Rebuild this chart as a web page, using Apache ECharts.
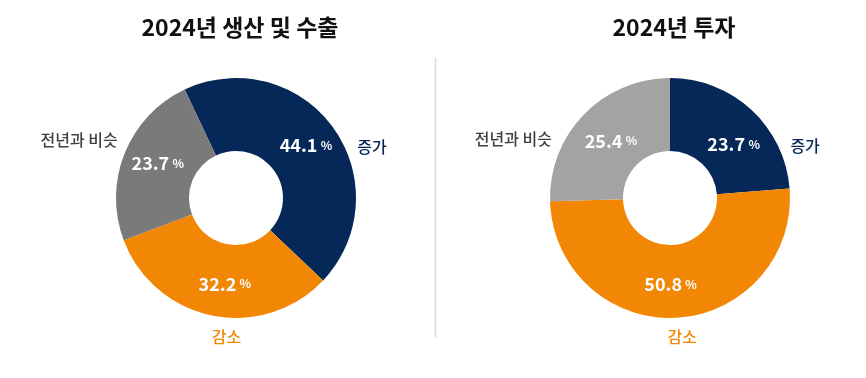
<!DOCTYPE html>
<html><head><meta charset="utf-8">
<script src="https://cdn.jsdelivr.net/npm/echarts@6/dist/echarts.min.js"></script>
<style>html,body{margin:0;padding:0;background:#fff}#c{width:866px;height:378px}</style>
</head><body><div id="c"></div>
<script>
const titles = ['2024년 생산 및 수출', '2024년 투자'];
const categories = ['증가', '감소', '전년과 비슷'];
const leftValues = [44.1, 32.2, 23.7];
const rightValues = [23.7, 50.8, 25.4];

const FONT = '"Noto Sans CJK KR", "Noto Sans", sans-serif';
const NAVY = '#062858', ORANGE = '#f28705';
const leftColors = [NAVY, ORANGE, '#7a7a7a'];
const rightColors = [NAVY, ORANGE, '#a3a3a3'];
const outerTextColors = [NAVY, ORANGE, '#404040'];

// label fine-tune offsets (style only)
const leftInnerOff = [[0, -2], [6, 1], [2, -2]];
const rightInnerOff = [[5, 10], [-4, 0], [3, 3]];
const leftOuterOff = [[19, 19], [34, 21], [-2, -13]];
const rightOuterOff = [[34, 36], [-14, 19], [-27, 25]];

function mk(values, colors) {
  return categories.map((c, i) => ({ name: c, value: values[i], itemStyle: { color: colors[i] } }));
}
function innerSeries(values, colors, center, startAngle, off) {
  return {
    type: 'pie', center, radius: [47, 120], startAngle, clockwise: true,
    avoidLabelOverlap: false, silent: true,
    data: mk(values, colors),
    itemStyle: { borderWidth: 0 },
    label: {
      show: true, position: 'inside',
      formatter: p => '{v|' + p.value.toFixed(1) + '} {p|%}',
      rich: {
        v: { color: '#fff', fontSize: 18, fontWeight: 'bold', fontFamily: FONT },
        p: { color: '#fff', fontSize: 12, fontWeight: 'bold', fontFamily: FONT }
      }
    },
    labelLine: { show: false },
    labelLayout: p => ({ dx: off[p.dataIndex][0], dy: off[p.dataIndex][1] }),
    emphasis: { disabled: true }
  };
}
function outerSeries(values, center, startAngle, off) {
  return {
    type: 'pie', center, radius: [47, 120], startAngle, clockwise: true,
    avoidLabelOverlap: false, silent: true, z: 3,
    data: categories.map((c, i) => ({
      name: c, value: values[i],
      itemStyle: { color: 'rgba(0,0,0,0)' },
      label: { color: outerTextColors[i] }
    })),
    label: {
      show: true, position: 'outside', formatter: '{b}',
      fontSize: 16, fontFamily: FONT, fontWeight: 500, distanceToLabelLine: 5
    },
    labelLine: { show: false, length: 0, length2: 0 },
    labelLayout: p => ({ dx: off[p.dataIndex][0], dy: off[p.dataIndex][1] }),
    emphasis: { disabled: true }
  };
}

const chart = echarts.init(document.getElementById('c'), null, { renderer: 'canvas' });
chart.setOption({
  animation: false,
  title: [
    { text: titles[0], left: 235, top: 11, textAlign: 'center',
      textStyle: { fontSize: 23, fontWeight: 'bold', color: '#111', fontFamily: FONT } },
    { text: titles[1], left: 669, top: 11, textAlign: 'center',
      textStyle: { fontSize: 23, fontWeight: 'bold', color: '#111', fontFamily: FONT } }
  ],
  graphic: [{
    type: 'line', shape: { x1: 435.5, y1: 58, x2: 435.5, y2: 338 },
    style: { stroke: '#d9d9d9', lineWidth: 1.5 }
  }],
  series: [
    innerSeries(leftValues, leftColors, [236, 198], 115.3, leftInnerOff),
    outerSeries(leftValues, [236, 198], 115.3, leftOuterOff),
    innerSeries(rightValues, rightColors, [670, 198], 90, rightInnerOff),
    outerSeries(rightValues, [670, 198], 90, rightOuterOff)
  ]
});
</script></body></html>
